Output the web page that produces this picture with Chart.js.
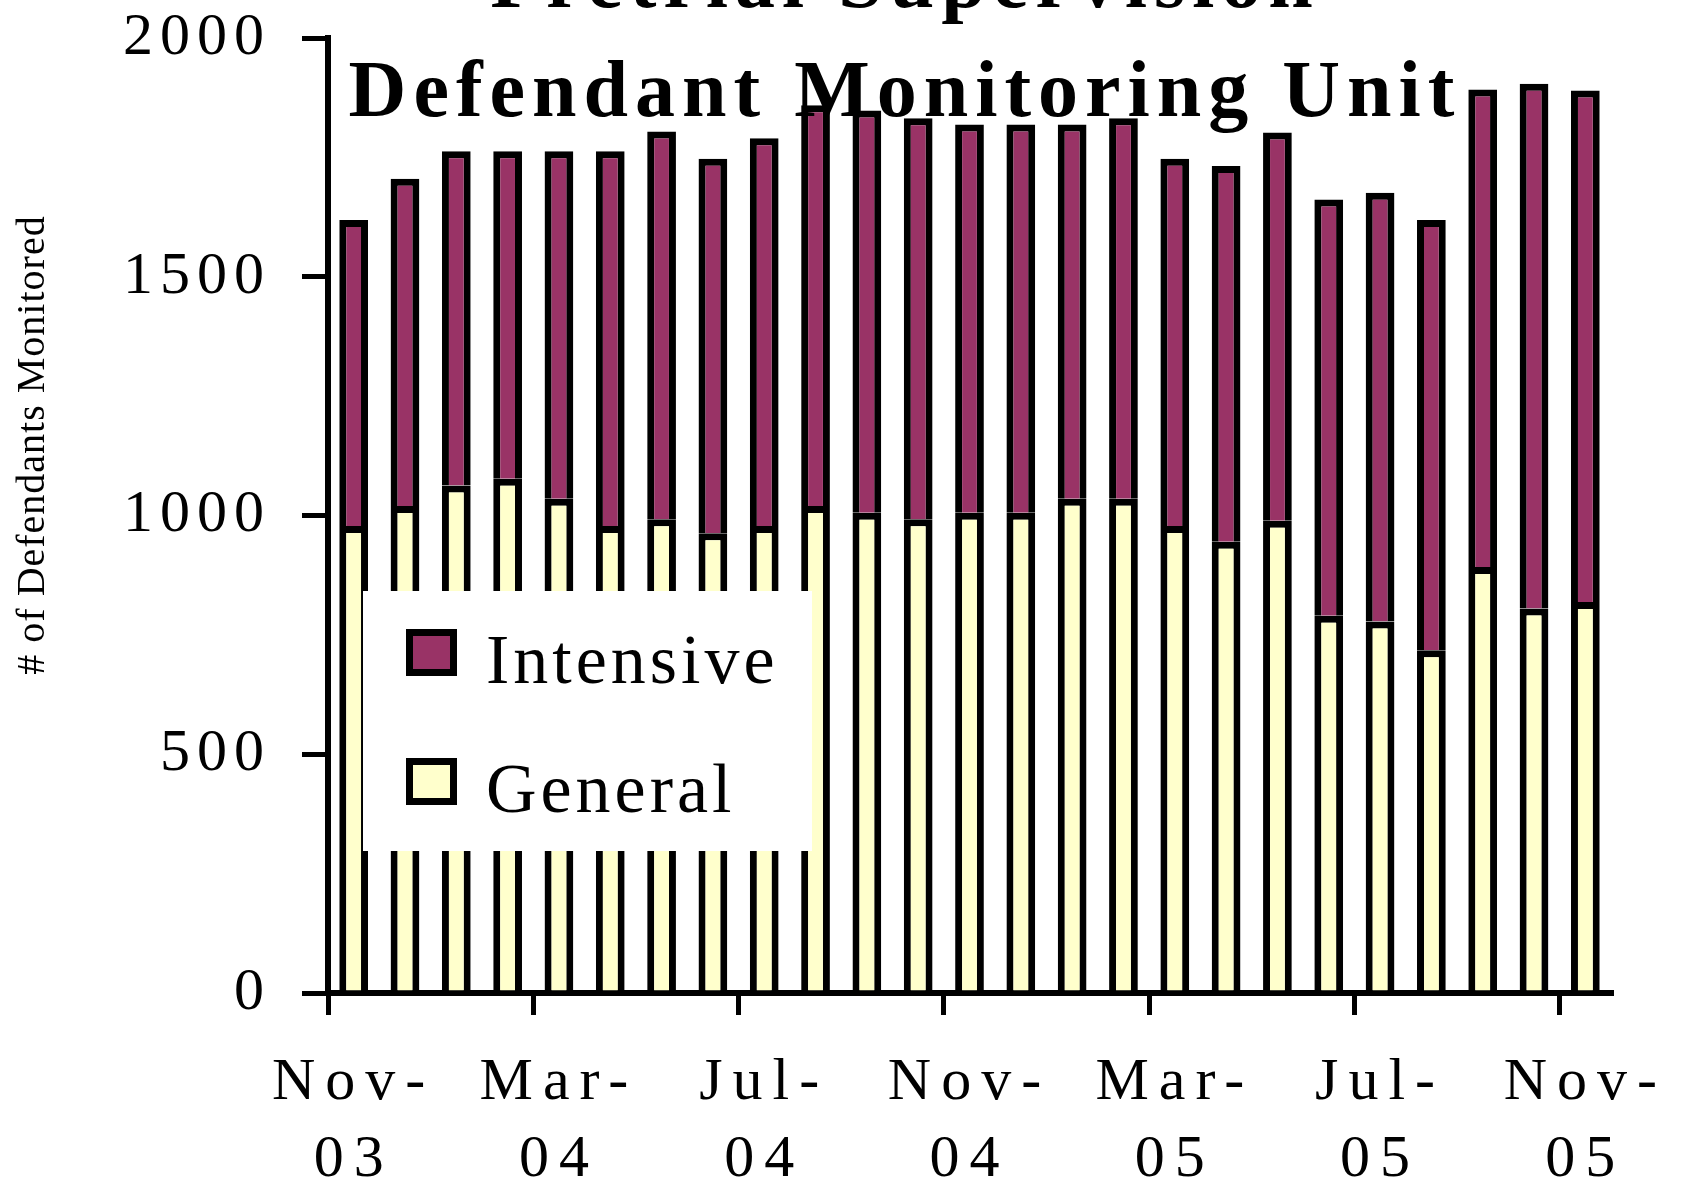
<!DOCTYPE html>
<html>
<head>
<meta charset="utf-8">
<script src="https://cdn.jsdelivr.net/npm/chart.js@4.4.1/dist/chart.umd.min.js"></script>
<style>
    html, body { margin: 0; padding: 0; background: #ffffff; }
</style>
</head>
<body>
<canvas id="myChart" width="1687" height="1192"></canvas>
<script>
// Monthly caseload, Nov-03 .. Nov-05
const months = ['Nov-03', 'Dec-03', 'Jan-04', 'Feb-04', 'Mar-04', 'Apr-04', 'May-04', 'Jun-04', 'Jul-04',
    'Aug-04', 'Sep-04', 'Oct-04', 'Nov-04', 'Dec-04', 'Jan-05', 'Feb-05', 'Mar-05', 'Apr-05', 'May-05',
    'Jun-05', 'Jul-05', 'Aug-05', 'Sep-05', 'Oct-05', 'Nov-05']
const general = [978, 1020, 1063, 1077, 1035, 978, 992, 963, 978, 1020, 1006, 992, 1006, 1006, 1035, 1035,
    978, 945, 989, 790, 778, 718, 892, 805, 819]
const intensive = [641, 685, 700, 686, 728, 785, 812, 784, 812, 839, 842, 840, 813, 813, 784, 797,
    769, 787, 813, 872, 898, 901, 1000, 1099, 1071]
const yTicks = [0, 500, 1000, 1500, 2000]
const titleLines = ['Pretrial Supervision', 'Defendant Monitoring Unit']
const yTitle = '# of Defendants Monitored'

const serif = '"Liberation Serif", "Times New Roman", serif'

// Title, y title and legend sit on top of the plot, so draw them by hand
const overlay = {
    id: 'overlay',
    beforeLayout(chart) { chart.ctx.letterSpacing = '7px' },
    beforeDraw(chart) { chart.ctx.letterSpacing = '7px' },
    afterDatasetsDraw(chart) {
        const ctx = chart.ctx
        const ca = chart.chartArea
        const lx = ca.left + 35
        const ly = ca.top + 553
        ctx.save()
        ctx.fillStyle = '#ffffff'
        ctx.fillRect(lx, ly, 449, 260)
        ctx.font = '70px ' + serif
        ctx.textAlign = 'left'
        ctx.textBaseline = 'alphabetic'
        ctx.letterSpacing = '4px'
        let items = chart.data.datasets.slice().reverse()
        items.forEach((ds, i) => {
            let y = ly + 38 + i * 129
            ctx.fillStyle = ds.backgroundColor
            ctx.fillRect(lx + 43, y, 51, 47)
            ctx.lineWidth = 7
            ctx.strokeStyle = '#000000'
            ctx.strokeRect(lx + 46.5, y + 3.5, 44, 40)
            ctx.fillStyle = '#000000'
            ctx.fillText(ds.label, lx + 123, y + 54)
        })
        ctx.restore()
        // x tick labels are drawn after this point (ticks.z = 1)
        ctx.letterSpacing = '10px'
    },
    afterDraw(chart) {
        const ctx = chart.ctx
        ctx.save()
        ctx.fillStyle = '#000000'
        ctx.font = 'bold 80px ' + serif
        ctx.letterSpacing = '7px'
        ctx.textAlign = 'center'
        ctx.textBaseline = 'alphabetic'
        ctx.fillText(titleLines[0], 905, 7)
        ctx.fillText(titleLines[1], 905, 116)

        ctx.font = '40px ' + serif
        ctx.letterSpacing = '1px'
        ctx.translate(44, 445)
        ctx.rotate(-Math.PI / 2)
        ctx.fillText(yTitle, 0, 0)
        ctx.restore()
    }
}

const ctx = document.getElementById('myChart').getContext('2d')
const myChart = new Chart(ctx, {
    type: 'bar',
    data: {
        labels: months,
        datasets: [{
            label: 'General',
            data: general,
            backgroundColor: '#FFFFCC',
            borderColor: '#000000',
            borderWidth: 7,
            borderSkipped: 'start'
        }, {
            label: 'Intensive',
            data: intensive,
            backgroundColor: '#993366',
            borderColor: '#000000',
            borderWidth: 7,
            borderSkipped: 'start'
        }]
    },
    options: {
        responsive: false,
        animation: false,
        layout: { padding: { top: 38, right: 76, bottom: 0, left: 0 } },
        datasets: { bar: { categoryPercentage: 1, barPercentage: 0.56 } },
        plugins: {
            legend: { display: false },
            tooltip: { enabled: false }
        },
        scales: {
            x: {
                stacked: true,
                offset: true,
                grid: {
                    offset: true,
                    drawOnChartArea: false,
                    tickLength: 22,
                    lineWidth: 5,
                    color: c => c.index % 4 === 0 ? '#000000' : 'rgba(0,0,0,0)'
                },
                border: { color: '#000000', width: 6 },
                ticks: {
                    autoSkip: false,
                    maxRotation: 0,
                    minRotation: 0,
                    padding: 30,
                    color: '#000000',
                    z: 1,
                    font: { family: serif, size: 60, lineHeight: 1.28 },
                    callback: (v, i) => {
                        if (i % 4 !== 0) return ''
                        let parts = months[i].split('-')
                        return [parts[0] + '-', parts[1]]
                    }
                },
                afterFit: s => {
                    s.height = 199
                    s.paddingLeft = 0
                    s.paddingRight = 0
                }
            },
            y: {
                stacked: true,
                min: 0,
                max: 2000,
                afterBuildTicks: s => { s.ticks = yTicks.map(v => ({ value: v })) },
                grid: { drawOnChartArea: false, tickLength: 26, lineWidth: 5, color: '#000000' },
                border: { color: '#000000', width: 6 },
                ticks: {
                    padding: 31,
                    color: '#000000',
                    font: { family: serif, size: 60 },
                    callback: v => String(v)
                },
                afterFit: s => {
                    s.width = 328
                    s.paddingTop = 0
                    s.paddingBottom = 0
                }
            }
        }
    },
    plugins: [overlay]
})
</script>
</body>
</html>
